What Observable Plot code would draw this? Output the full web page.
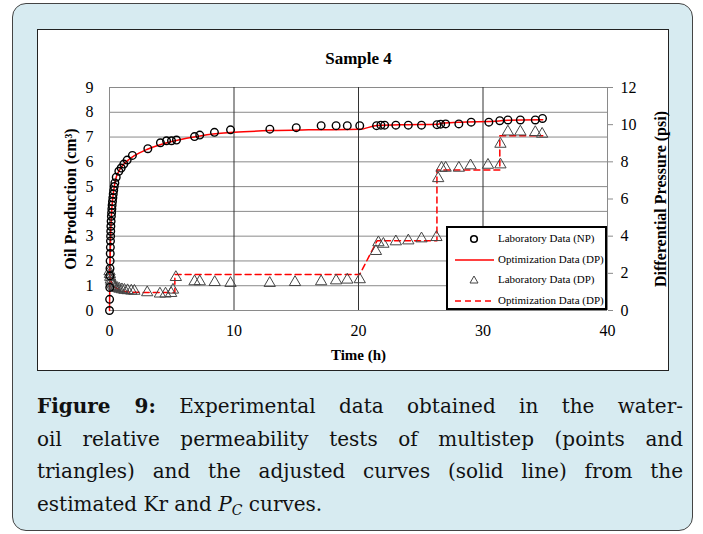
<!DOCTYPE html>
<html>
<head>
<meta charset="utf-8">
<script src="https://cdn.jsdelivr.net/npm/d3@7"></script>
<script src="https://cdn.jsdelivr.net/npm/@observablehq/plot@0.6"></script>
<style>
  html, body { margin:0; padding:0; }
  body { width:703px; height:534px; position:relative; overflow:hidden; background:#fff; font-family:"Liberation Serif", serif; }
  #panel { position:absolute; left:12px; top:3px; width:681px; height:528px; background:#d7ebf1; border:1.5px solid #444; border-radius:14px; box-sizing:border-box; }
  #inner { position:absolute; left:37px; top:29px; width:632px; height:342px; background:#fff; border:1.5px solid #222; box-sizing:border-box; }
  #chart { position:absolute; left:0; top:0; }
  #chart svg, #chart svg text { font-family:"Liberation Serif", "Times New Roman", serif !important; }
  #legend { position:absolute; left:446px; top:226px; width:161px; height:84px; background:#fff; border:2px solid #000; box-sizing:border-box; }
  #legend .row { position:absolute; left:0; height:20px; width:100%; }
  #legend .lab { position:absolute; left:50px; top:3px; font-size:11px; font-family:"Liberation Serif", serif; color:#000; white-space:nowrap; }
  #legend svg { position:absolute; left:0; top:0; }
  #caption { position:absolute; left:37px; top:390px; width:646px; font-family:"DejaVu Serif", serif; font-size:20px; line-height:32.5px; color:#111; }
  #caption div { text-align:justify; text-align-last:justify; white-space:nowrap; }
  #caption div.last { text-align-last:left; }
</style>
</head>
<body>
<div id="panel"></div>
<div id="inner"></div>
<div id="chart"></div>
<div id="legend"></div>
<div id="caption">
  <div><b>Figure 9:</b> Experimental data obtained in the water-</div>
  <div>oil relative permeability tests of multistep (points and</div>
  <div>triangles) and the adjusted curves (solid line) from the</div>
  <div class="last">estimated Kr and <i>P<sub style="font-size:14px;vertical-align:-4px">C</sub></i> curves.</div>
</div>
<script>
// ---- axis ticks ----
const xTicks = [0, 10, 20, 30, 40];
const yLeftTicks = [0, 1, 2, 3, 4, 5, 6, 7, 8, 9];
const yRightTicks = [0, 2, 4, 6, 8, 10, 12];
const xGrid = [10, 20, 30];

// ---- Laboratory Data (NP): oil production, cm3 ----
const npTime = [0, 0.01, 0.02, 0.03, 0.04, 0.05, 0.06, 0.07, 0.08, 0.09, 0.10, 0.11, 0.13, 0.15, 0.17, 0.19, 0.21, 0.24, 0.27, 0.30, 0.34, 0.38, 0.43,
  0.54, 0.75, 0.94, 1.15, 1.42, 1.84, 3.08, 4.09, 4.58, 4.98, 5.38, 6.83, 7.25, 8.43, 9.72, 12.88,
  15.0, 17.0, 18.2, 19.1, 20.1, 21.45, 21.8, 22.1, 23.0, 24.0, 25.06, 26.3, 26.6, 27.0, 28.06, 29.05, 30.47, 31.35, 32.0, 33.0, 34.2, 34.78];
const npValue = [0, 0.45, 0.93, 1.4, 1.7, 2.0, 2.3, 2.55, 2.8, 3.0, 3.2, 3.4, 3.6, 3.8, 3.95, 4.1, 4.25, 4.4, 4.55, 4.7, 4.85, 5.0, 5.15,
  5.38, 5.62, 5.75, 5.91, 6.07, 6.26, 6.53, 6.77, 6.85, 6.85, 6.88, 7.02, 7.08, 7.19, 7.29, 7.32,
  7.38, 7.46, 7.46, 7.46, 7.46, 7.46, 7.48, 7.48, 7.48, 7.48, 7.48, 7.5, 7.52, 7.53, 7.53, 7.6, 7.6, 7.66, 7.69, 7.69, 7.69, 7.75];

// ---- Optimization Data (NP fit, solid) ----
const npFitTime = [0, 0.02, 0.04, 0.06, 0.1, 0.15, 0.2, 0.3, 0.4, 0.55, 0.75, 1.0, 1.5, 2, 3, 4, 5, 6, 7, 8, 10, 13, 16, 20.1, 21.5, 24, 26.4, 26.7, 28, 31.3, 32, 34.8];
const npFitValue = [0, 0.9, 1.7, 2.3, 3.2, 3.8, 4.2, 4.7, 5.05, 5.4, 5.62, 5.82, 6.07, 6.25, 6.5, 6.68, 6.82, 6.93, 7.02, 7.1, 7.19, 7.26, 7.29, 7.31, 7.47, 7.5, 7.52, 7.56, 7.6, 7.65, 7.68, 7.7];

// ---- Laboratory Data (DP): differential pressure, psi ----
const dpTime = [0.0, 0.03, 0.06, 0.1, 0.15, 0.2, 0.28, 0.38, 0.5, 0.65, 0.8, 1.0, 1.2, 1.45, 1.75, 2.0,
  3.03, 4.05, 4.5, 4.95, 5.1, 5.33, 6.83, 7.25, 8.45, 9.72, 12.87, 14.9, 17.0, 18.2, 19.1, 20.1,
  21.4, 21.6, 22.0, 23.0, 24.0, 25.06, 26.26, 26.4, 26.67, 27.0, 28.06, 29.0, 30.4, 31.4, 31.4, 32.0, 33.0, 34.2, 34.75];
const dpValue = [2.1, 1.95, 1.8, 1.65, 1.55, 1.45, 1.38, 1.3, 1.25, 1.2, 1.16, 1.13, 1.1, 1.08, 1.06, 1.05,
  0.97, 0.9, 0.9, 0.93, 1.11, 1.79, 1.56, 1.56, 1.52, 1.47, 1.47, 1.52, 1.56, 1.61, 1.65, 1.67,
  3.19, 3.66, 3.58, 3.71, 3.76, 3.87, 3.94, 7.11, 7.67, 7.67, 7.67, 7.8, 7.83, 7.85, 8.96, 9.62, 9.62, 9.59, 9.5];

// ---- Optimization Data (DP fit, dashed) ----
const dpFitTime = [0, 0.05, 0.1, 0.2, 0.35, 0.5, 0.75, 1.0, 1.5, 2.0, 3.0, 5.25, 5.25, 20.1, 21.5, 26.3, 26.3, 31.35, 31.35, 34.8];
const dpFitValue = [2.3, 1.85, 1.65, 1.45, 1.3, 1.22, 1.13, 1.07, 1.0, 0.98, 0.97, 0.97, 1.94, 1.94, 3.76, 3.76, 7.56, 7.56, 9.4, 9.4];

// right axis (0-12 psi) shares the frame with left axis (0-9 cm3)
const leftMax = 9, rightMax = 12;
const toLeft = p => p * leftMax / rightMax;

const np = npTime.map((t, i) => ({t, v: npValue[i]}));
const npFit = npFitTime.map((t, i) => ({t, v: npFitValue[i]}));
const dp = dpTime.map((t, i) => ({t, v: toLeft(dpValue[i])}));
const dpFit = dpFitTime.map((t, i) => ({t, v: toLeft(dpFitValue[i])}));

const serif = "'Liberation Serif', 'Times New Roman', serif";
const chart = Plot.plot({
  width: 703, height: 372,
  marginLeft: 109, marginRight: 96, marginTop: 87, marginBottom: 62,
  style: {background: "transparent", fontFamily: serif, fontSize: "16px", color: "#000"},
  x: {domain: [0, 40]},
  y: {domain: [0, leftMax]},
  marks: [
    Plot.gridY(yLeftTicks, {stroke: "#8a8a8a", strokeOpacity: 1, strokeWidth: 1}),
    Plot.gridX(xGrid, {stroke: "#333", strokeOpacity: 1, strokeWidth: 1}),
    Plot.ruleX([0, 40], {stroke: "#8a8a8a", strokeWidth: 1}),
    Plot.axisX(xTicks, {tickSize: 0, tickPadding: 14, label: null, fontSize: 16, fontFamily: serif}),
    Plot.axisY(yLeftTicks, {anchor: "left", tickSize: 0, tickPadding: 16, label: null, fontSize: 16, fontFamily: serif}),
    Plot.axisY(yRightTicks.map(toLeft), {anchor: "right", tickSize: 5, tickPadding: 8, stroke: "#8a8a8a", fill: "#000", fontFamily: serif,
      tickFormat: d => String(Math.round(d * rightMax / leftMax)), label: null, fontSize: 16}),
    Plot.line(dpFit, {x: "t", y: "v", stroke: "#ff0000", strokeWidth: 1.5, strokeDasharray: "6,4"}),
    Plot.line(npFit, {x: "t", y: "v", stroke: "#ff0000", strokeWidth: 1.5, curve: "monotone-x"}),
    Plot.dot(dp, {x: "t", y: "v", symbol: "triangle", r: 4.2, stroke: "#444", strokeWidth: 1, fill: "none"}),
    Plot.dot(np, {x: "t", y: "v", r: 3.8, stroke: "#000", strokeWidth: 1.4, fill: "none"}),
    Plot.text(["Sample 4"], {frameAnchor: "top", lineAnchor: "middle", dy: -29, fontSize: 17, fontWeight: "bold", fontFamily: serif}),
    Plot.text(["Time (h)"], {frameAnchor: "bottom", lineAnchor: "middle", dy: 45, fontSize: 15, fontWeight: "bold", fontFamily: serif}),
    Plot.text(["Oil Production (cm³)"], {frameAnchor: "left", textAnchor: "middle", lineAnchor: "middle", dx: -39, rotate: -90, fontSize: 16, fontWeight: "bold", fontFamily: serif}),
    Plot.text(["Differential Pressure (psi)"], {frameAnchor: "right", textAnchor: "middle", lineAnchor: "middle", dx: 53, rotate: -90, fontSize: 16, fontWeight: "bold", fontFamily: serif})
  ]
});
document.getElementById("chart").appendChild(chart);

// legend
const legendItems = [
  {label: "Laboratory Data (NP)", kind: "circle"},
  {label: "Optimization Data (DP)", kind: "solid"},
  {label: "Laboratory Data (DP)", kind: "triangle"},
  {label: "Optimization Data (DP)", kind: "dashed"}
];
const legend = document.getElementById("legend");
legendItems.forEach((it, i) => {
  const row = document.createElement("div");
  row.className = "row";
  row.style.top = (1 + i * 20.5) + "px";
  let sym = "";
  if (it.kind === "circle") sym = '<circle cx="26" cy="10" r="3.3" fill="none" stroke="#000" stroke-width="1.6"/>';
  if (it.kind === "solid") sym = '<line x1="7" x2="46" y1="10" y2="10" stroke="#ff0000" stroke-width="1.5"/>';
  if (it.kind === "triangle") sym = '<path d="M26,6 L30,13 L22,13 Z" fill="none" stroke="#444" stroke-width="1"/>';
  if (it.kind === "dashed") sym = '<line x1="7" x2="46" y1="10" y2="10" stroke="#ff0000" stroke-width="1.5" stroke-dasharray="6,4"/>';
  row.innerHTML = '<svg width="50" height="20">' + sym + '</svg><span class="lab">' + it.label + '</span>';
  legend.appendChild(row);
});
</script>
</body>
</html>
